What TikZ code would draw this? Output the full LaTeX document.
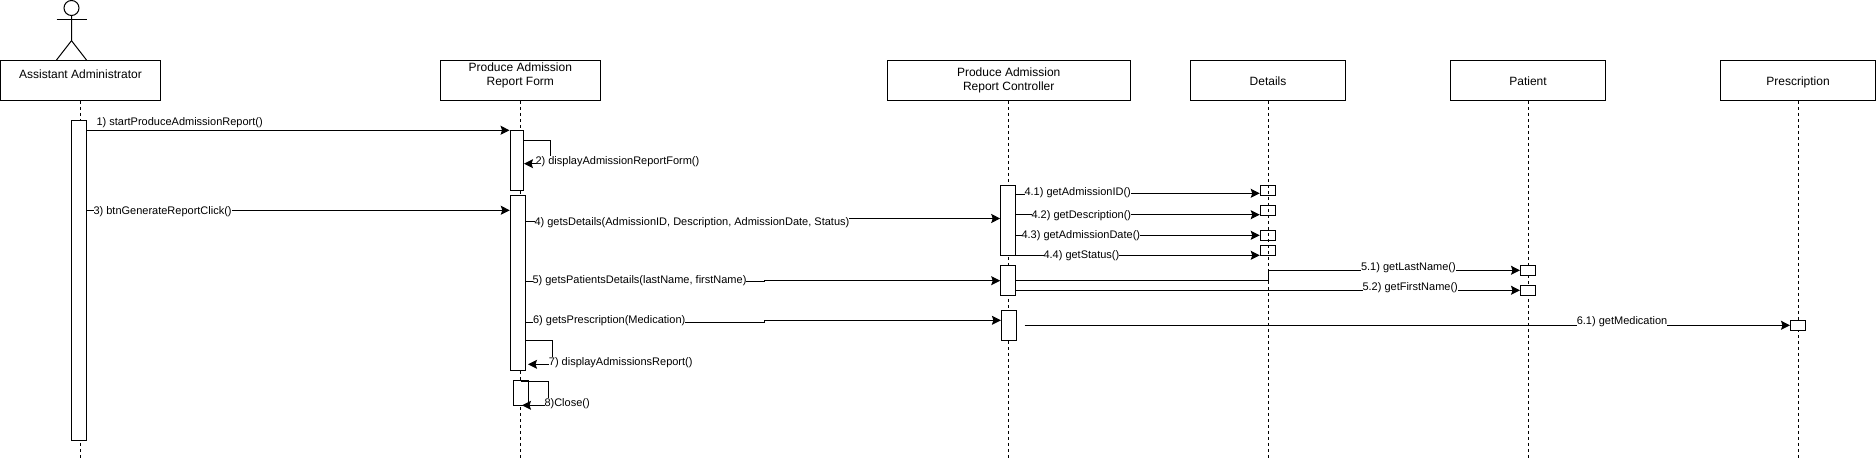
\documentclass[tikz,border=0pt]{standalone}
\usepackage{fontspec}
\setmainfont{Liberation Sans}
\usetikzlibrary{arrows.meta}

\begin{document}
\begin{tikzpicture}[x=1pt,y=-1pt,>={Stealth[length=9pt,width=9pt,inset=1.5pt]},line width=1pt,
                    head node/.style={draw,fill=white,inner sep=0pt,minimum height=40pt,align=center,
                                      font=\fontsize{12}{14}\selectfont},
                    one line/.style={text height=11pt,text depth=0pt},
                    act node/.style={draw,fill=white,inner sep=0pt,minimum width=15pt},
                    tick node/.style={draw,inner sep=0pt,minimum width=15.5pt,minimum height=10pt},
                    life line/.style={dash pattern=on 3pt off 3pt},
                    msg node/.style={anchor=west,fill=white,inner ysep=0pt,inner xsep=0pt,text height=8.5pt,
                                     text depth=2.5pt,yshift=-1pt,font=\fontsize{11}{13}\selectfont}]
  \useasboundingbox (0,0) rectangle (1876,462);
  % actor
  \node[draw,circle,inner sep=0pt,minimum size=15pt] (head) at (71.5,8) {};
  \coordinate (hip) at (71.5,40.7);
  \coordinate (handl) at (56.5,20);
  \coordinate (handr) at (86.5,20);
  \coordinate (footl) at (56.5,60);
  \coordinate (footr) at (86.5,60);
  \draw (head.south) -- (hip) -- (footl);
  \draw (hip) -- (footr);
  \draw (handl) -- (handr);
  % heads
  \node[head node,minimum width=160pt] (admin) at (80.5,80.3) {};
  \node[font=\fontsize{12}{14}\selectfont] (admintext) at (80.5,74) {Assistant Administrator};
  \node[head node,minimum width=160.5pt] (form) at (520.3,80.3) {};
  \node[align=center,font=\fontsize{12}{14}\selectfont] (formtext) at (520.3,75.5) {Produce Admission\\Report Form};
  \node[head node,minimum width=243pt] (ctrl) at (1008.7,80.3) {Produce Admission\\Report Controller};
  \node[head node,one line,minimum width=155pt] (details) at (1268,80.3) {Details};
  \node[head node,one line,minimum width=155pt] (patient) at (1528,80.3) {Patient};
  \node[head node,one line,minimum width=155pt] (presc) at (1798,80.3) {Prescription};
  % lifelines
  \coordinate (bottom) at (0,458.7);
  \draw[life line] (admin.south) -- (admin.south |- bottom);
  \draw[life line] (form.south) -- (form.south |- bottom);
  \draw[life line] (ctrl.south) -- (ctrl.south |- bottom);
  \draw[life line] (details.south) -- (details.south |- bottom);
  \draw[life line] (patient.south) -- (patient.south |- bottom);
  \draw[life line] (presc.south) -- (presc.south |- bottom);
  % activations
  \node[act node,minimum height=320pt] (aact) at (78.9,280.2) {};
  \node[act node,minimum width=13.5pt,minimum height=60pt] (fact1) at (516.8,160.3) {};
  \node[act node,minimum height=175pt] (fact2) at (517.8,282.8) {};
  \node[act node,minimum height=25pt] (fact3) at (520.5,392.8) {};
  \node[act node,minimum height=70pt] (cact1) at (1008.2,220.3) {};
  \node[act node,minimum height=30pt] (cact2) at (1008.2,280.3) {};
  \node[act node,minimum height=30pt] (cact3) at (1008.9,325.3) {};
  \node[tick node] (dt1) at (1268,190.3) {};
  \node[tick node] (dt2) at (1268,210.3) {};
  \node[tick node] (dt3) at (1268,235.3) {};
  \node[tick node] (dt4) at (1268,250.3) {};
  \node[act node,minimum height=10pt] (pt1) at (1528,270.3) {};
  \node[act node,minimum height=10pt] (pt2) at (1528,290.3) {};
  \node[act node,minimum height=10pt] (rt1) at (1798,325.3) {};
  % messages
  \path[->]
    (aact.east |- 0,130.3) edge (fact1.west |- 0,130.3)
    (aact.east |- 0,210.3) edge (fact2.west |- 0,210.3);
  \draw[->] (fact1.east |- 0,140.3) -| (550.4,163.7) -- (524,163.7);
  \draw[->] (fact2.east |- 0,221.7) -| (763,218.5) -- (cact1.west |- 0,218.5);
  \draw[->] (fact2.east |- 0,282) -| (764,280.7) -- (cact2.west |- 0,280.7);
  \draw[->] (fact2.east |- 0,322.3) -| (764,320.3) -- (cact3.west |- 0,320.3);
  \draw[->] (fact2.east |- 0,340.3) -| (552.8,364.3) -- (528,364.3);
  \draw[->] (fact3.north |- 0,381.3) -| (548,405.3) -- (522,405.3);
  \draw[->] (cact1.east |- 0,195) -| (1075,193.3) -- (dt1.west |- 0,193.3);
  \path[->]
    (cact1.east |- 0,214.7) edge (dt2.west |- 0,214.7)
    (cact1.east |- 0,235.3) edge (dt3.west)
    (cact1.east |- 0,255.3) edge (dt4.west |- 0,255.3)
    (cact2.east |- 0,290.3) edge (pt2.west)
    (1024.5,325.3) edge (rt1.west);
  \draw[->] (cact2.east |- 0,280.3) -| (details.south |- 0,270.3) -- (pt1.west);
  % labels
  \node[msg node] (m1) at (96,121.7) {1) startProduceAdmissionReport()};
  \node[msg node] (m2) at (535,161) {2) displayAdmissionReportForm()};
  \node[msg node] (m3) at (93,210.5) {3) btnGenerateReportClick()};
  \node[msg node] (m4) at (534,221.7) {4) getsDetails(AdmissionID, Description, AdmissionDate, Status)};
  \node[msg node] (m41) at (1024,192) {4.1) getAdmissionID()};
  \node[msg node] (m42) at (1031,214.5) {4.2) getDescription()};
  \node[msg node] (m43) at (1021,234.5) {4.3) getAdmissionDate()};
  \node[msg node] (m44) at (1043,254.5) {4.4) getStatus()};
  \node[msg node] (m5) at (532,279.5) {5) getsPatientsDetails(lastName, firstName)};
  \node[msg node] (m51) at (1360.5,266.7) {5.1) getLastName()};
  \node[msg node] (m52) at (1362,286.7) {5.2) getFirstName()};
  \node[msg node] (m6) at (532.6,319.5) {6) getsPrescription(Medication)};
  \node[msg node] (m61) at (1576.3,320.3) {6.1) getMedication};
  \node[msg node] (m7) at (548.4,361.3) {7) displayAdmissionsReport()};
  \node[msg node] (m8) at (544,402.3) {8)Close()};
\end{tikzpicture}
\end{document}
